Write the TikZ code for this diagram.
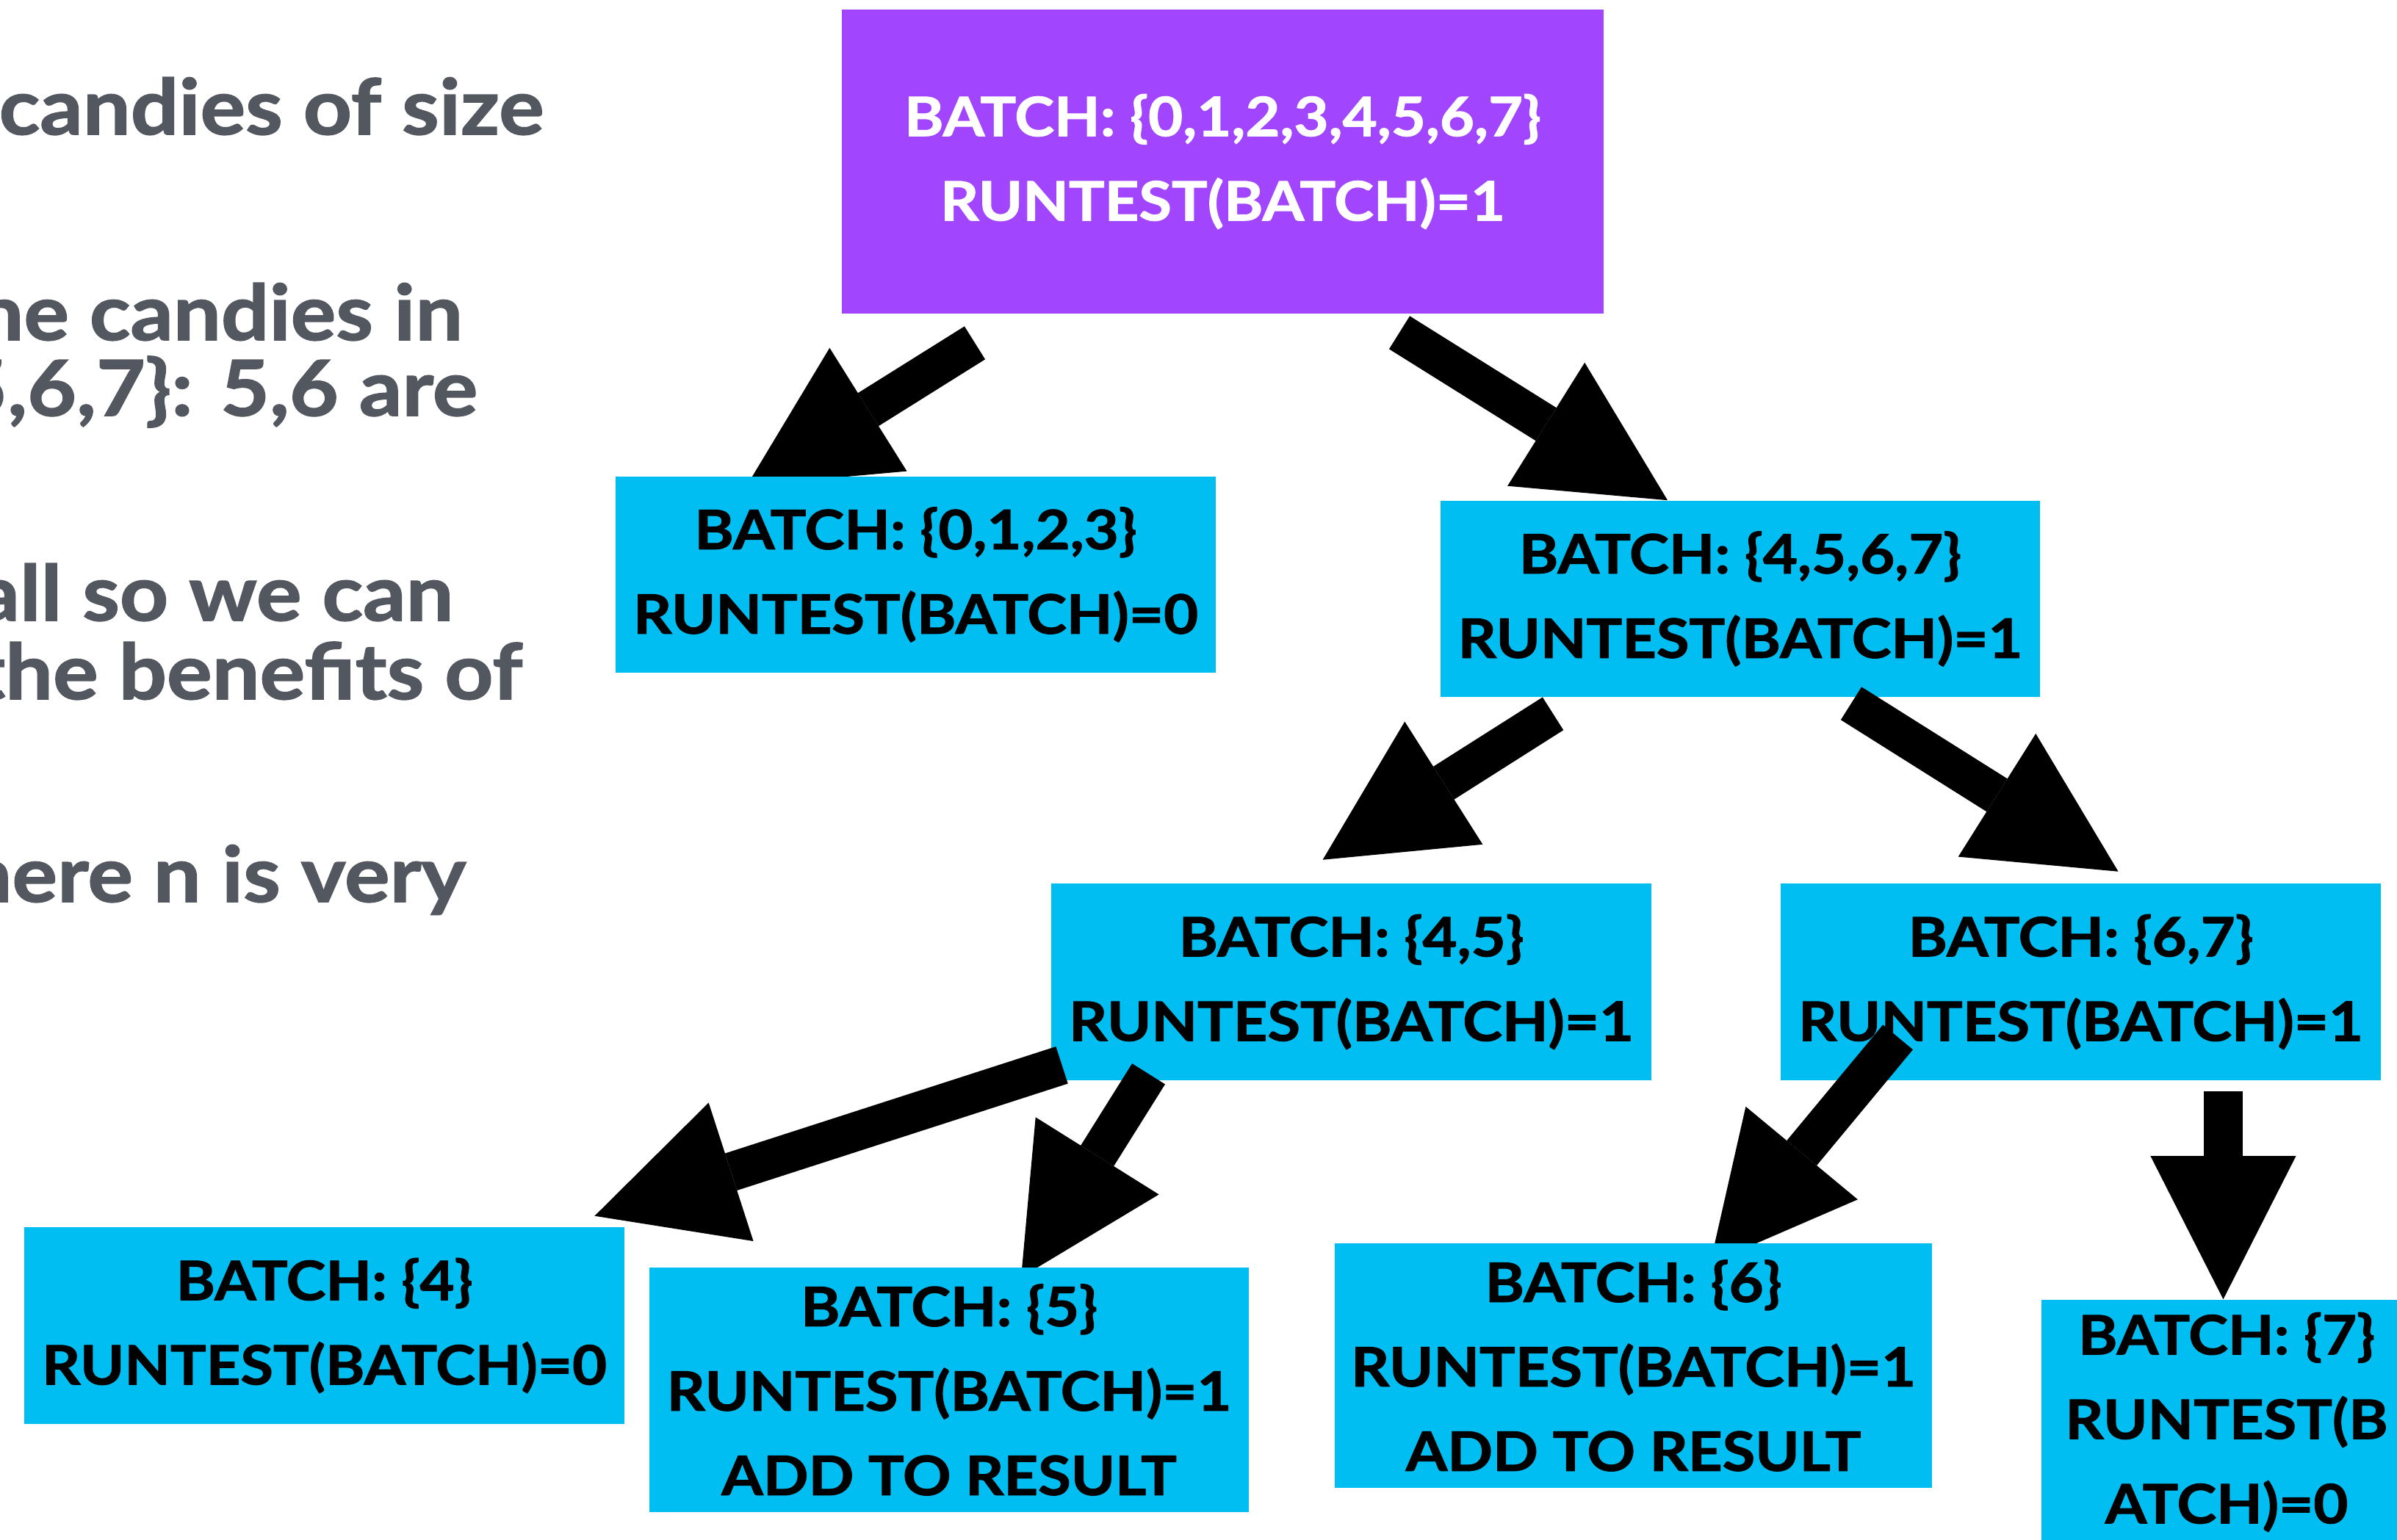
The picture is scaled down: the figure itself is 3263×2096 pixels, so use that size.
\documentclass[tikz,border=0pt]{standalone}
\usepackage{fontspec}
\setmainfont{Lato}[FakeStretch=1.1, BoldFeatures={FakeBold=1.5}]
\usepackage{xcolor}
\usetikzlibrary{arrows.meta,positioning,calc}
\definecolor{batchpurple}{HTML}{A146FE}
\definecolor{batchblue}{HTML}{00BEF2}
\definecolor{notegray}{HTML}{53575F}
\pgfdeclarelayer{front}
\pgfsetlayers{main,front}

\begin{document}
\begin{tikzpicture}[x=0.01cm, y=-0.01cm,
  box/.style={fill=batchblue, inner sep=0pt, align=center,
              font=\bfseries\fontsize{21}{32.7}\selectfont,
              execute at begin node={\rule{0pt}{1.1em}},
              minimum width=8.16cm, minimum height=2.67cm},
  tallbox/.style={box, minimum height=3.33cm},
  note/.style={anchor=base east, inner sep=0pt, text=notegray,
               font=\bfseries\fontsize{29.8}{36}\selectfont},
  fat/.style={line width=0.53cm,
              -{Triangle[length=1.95cm, width=1.98cm, line width=0pt]}}]
  \useasboundingbox (0,0) rectangle (3263,2096);
  \clip (0,0) rectangle (3263,2096);
  \node[note] (l1) at (741,183)  {candies of size};
  \node[note] (l2) at (631,463)  {he candies in};
  \node[note] (l3) at (651,566)  {5,6,7\}: 5,6 are};
  \node[note] (l4) at (618,845)  {all so we can};
  \node[note] (l5) at (712,952)  {the benefits of};
  \node[note] (l6) at (635,1228) {here n is very};
  \node[box, fill=batchpurple, text=white, minimum width=10.37cm,
        minimum height=4.14cm] (root) at (1664.5,220)
        {BATCH: \{0,1,2,3,4,5,6,7\}\\RUNTEST(BATCH)=1};
  \node[box] (b4567) at (2369,815.5)  {BATCH: \{4,5,6,7\}\\RUNTEST(BATCH)=1};
  \node[box] (b45)   at (1839.5,1337) {BATCH: \{4,5\}\\RUNTEST(BATCH)=1};
  \node[box] (b67)   at (2832.5,1337) {BATCH: \{6,7\}\\RUNTEST(BATCH)=1};
  \node[box] (b4)    at (441.5,1805)  {BATCH: \{4\}\\RUNTEST(BATCH)=0};
  \node[tallbox, minimum width=5.04cm] (b7) at (3031,1936.5)
        {BATCH: \{7\}\\RUNTEST(B\\ATCH)=0};
  \begin{pgfonlayer}{front}
    \node[box] (b0123) at (1246.5,782.5) {BATCH: \{0,1,2,3\}\\RUNTEST(BATCH)=0};
    \node[tallbox] (b5) at (1292,1892.5) {BATCH: \{5\}\\RUNTEST(BATCH)=1\\ADD TO RESULT};
    \node[tallbox, minimum width=8.13cm] (b6) at (2223.5,1859.5)
          {BATCH: \{6\}\\RUNTEST(BATCH)=1\\ADD TO RESULT};
  \end{pgfonlayer}
  \draw[fat] ($(root.south west)+(182,39)$) -- ($(b0123.north west)+(179,13)$);
  \draw[fat] ($(root.south west)+(760,25)$) -- ($(b4567.north west)+(310,0)$);
  \draw[fat] ($(b4567.south west)+(154,22)$) -- ($(b45.north west)+(370,-32)$);
  \draw[fat] ($(b4567.south east)+(-258,8)$) -- ($(b67.north west)+(460,-16)$);
  \draw[fat] ($(b45.south west)+(15,-21)$) -- ($(b4.north east)+(-41,-15)$);
  \draw[fat] ($(b45.south west)+(133,-9)$) -- ($(b5.north west)+(507,14)$);
  \draw[fat] ($(b67.south west)+(160,-59)$) -- ($(b6.north west)+(512,28)$);
  \draw[fat] ($(b67.south east)+(-215,15)$) coordinate (s8) -- (s8 |- b7.north);
\end{tikzpicture}
\end{document}
